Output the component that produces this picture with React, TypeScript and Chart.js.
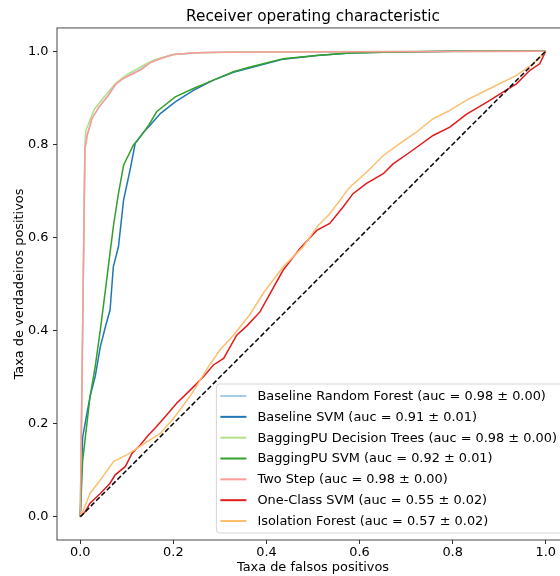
import React, { useEffect, useRef } from 'react';
import { Chart, registerables } from 'chart.js';

Chart.register(...registerables);

// ---- data ----
const axisTicks = [0, 0.2, 0.4, 0.6, 0.8, 1.0];

const baselineRfFpr = [0, 0.01, 0.015, 0.025, 0.04, 0.06, 0.075, 0.09, 0.11, 0.13, 0.15, 0.175, 0.2, 0.25, 0.3, 0.6, 1.0];
const baselineRfTpr = [0, 0.79, 0.82, 0.855, 0.88, 0.905, 0.928, 0.94, 0.952, 0.962, 0.976, 0.986, 0.993, 0.997, 0.998, 0.999, 1.0];

const baselineSvmFpr = [0, 0.005, 0.013, 0.021, 0.032, 0.043, 0.054, 0.064, 0.071, 0.082, 0.093, 0.107, 0.118, 0.135, 0.15, 0.172, 0.204, 0.243, 0.286, 0.329, 0.386, 0.436, 0.508, 0.579, 0.65, 0.722, 0.8, 1.0];
const baselineSvmTpr = [0, 0.17, 0.215, 0.258, 0.301, 0.365, 0.408, 0.444, 0.537, 0.58, 0.68, 0.745, 0.802, 0.825, 0.841, 0.866, 0.891, 0.916, 0.938, 0.955, 0.97, 0.983, 0.991, 0.996, 0.998, 0.999, 1.0, 1.0];

const baggingDtFpr = [0, 0.01, 0.012, 0.02, 0.03, 0.05, 0.075, 0.1, 0.12, 0.14, 0.16, 0.2, 0.25, 0.4, 1.0];
const baggingDtTpr = [0, 0.8, 0.83, 0.85, 0.875, 0.9, 0.93, 0.95, 0.961, 0.972, 0.982, 0.993, 0.997, 0.999, 1.0];

const baggingSvmFpr = [0, 0.005, 0.011, 0.021, 0.032, 0.043, 0.054, 0.063, 0.072, 0.082, 0.093, 0.114, 0.129, 0.147, 0.164, 0.204, 0.243, 0.286, 0.329, 0.365, 0.436, 0.508, 0.579, 0.65, 0.722, 0.8, 1.0];
const baggingSvmTpr = [0, 0.12, 0.172, 0.258, 0.322, 0.401, 0.487, 0.56, 0.63, 0.694, 0.755, 0.798, 0.816, 0.841, 0.87, 0.902, 0.92, 0.938, 0.956, 0.966, 0.984, 0.991, 0.996, 0.998, 0.999, 1.0, 1.0];

const twoStepFpr = [0, 0.01, 0.015, 0.025, 0.04, 0.06, 0.075, 0.09, 0.11, 0.13, 0.15, 0.175, 0.2, 0.25, 0.3, 0.6, 1.0];
const twoStepTpr = [0, 0.79, 0.82, 0.855, 0.88, 0.905, 0.928, 0.94, 0.95, 0.96, 0.975, 0.985, 0.993, 0.997, 0.998, 0.999, 1.0];

const oneClassFpr = [0, 0.01, 0.021, 0.043, 0.064, 0.075, 0.097, 0.111, 0.129, 0.147, 0.164, 0.186, 0.207, 0.229, 0.25, 0.265, 0.286, 0.308, 0.336, 0.358, 0.386, 0.408, 0.436, 0.472, 0.508, 0.536, 0.565, 0.586, 0.615, 0.651, 0.672, 0.708, 0.758, 0.794, 0.83, 0.873, 0.908, 0.937, 0.966, 0.987, 1.0];
const oneClassTpr = [0, 0.01, 0.029, 0.05, 0.072, 0.09, 0.108, 0.136, 0.154, 0.176, 0.194, 0.219, 0.244, 0.265, 0.286, 0.301, 0.326, 0.34, 0.39, 0.41, 0.44, 0.48, 0.53, 0.576, 0.615, 0.63, 0.666, 0.694, 0.716, 0.737, 0.758, 0.783, 0.819, 0.837, 0.865, 0.89, 0.912, 0.93, 0.959, 0.973, 1.0];

const isoForestFpr = [0, 0.007, 0.021, 0.043, 0.072, 0.1, 0.118, 0.143, 0.172, 0.2, 0.222, 0.24, 0.258, 0.275, 0.3, 0.329, 0.365, 0.393, 0.436, 0.479, 0.508, 0.536, 0.579, 0.615, 0.651, 0.687, 0.722, 0.758, 0.794, 0.83, 0.88, 0.937, 0.973, 1.0];
const isoForestTpr = [0, 0.015, 0.05, 0.079, 0.119, 0.133, 0.144, 0.161, 0.179, 0.211, 0.24, 0.265, 0.294, 0.322, 0.358, 0.39, 0.435, 0.48, 0.537, 0.58, 0.622, 0.651, 0.708, 0.74, 0.776, 0.802, 0.826, 0.855, 0.873, 0.895, 0.92, 0.948, 0.973, 1.0];

const chanceFpr = [0, 1];
const chanceTpr = [0, 1];

const seriesLabels = [
  'Baseline Random Forest (auc = 0.98 ± 0.00)',
  'Baseline SVM (auc = 0.91 ± 0.01)',
  'BaggingPU Decision Trees (auc = 0.98 ± 0.00)',
  'BaggingPU SVM (auc = 0.92 ± 0.01)',
  'Two Step (auc = 0.98 ± 0.00)',
  'One-Class SVM (auc = 0.55 ± 0.02)',
  'Isolation Forest (auc = 0.57 ± 0.02)',
];
const seriesFpr = [baselineRfFpr, baselineSvmFpr, baggingDtFpr, baggingSvmFpr, twoStepFpr, oneClassFpr, isoForestFpr];
const seriesTpr = [baselineRfTpr, baselineSvmTpr, baggingDtTpr, baggingSvmTpr, twoStepTpr, oneClassTpr, isoForestTpr];

const seriesColors = ['#a6cee3', '#1f78b4', '#b2df8a', '#33a02c', '#fb9a99', '#e31a1c', '#fdbf6f'];

const FONT = '"DejaVu Sans", "Liberation Sans", sans-serif';
const LINE_W = 1.5;
const TXT = 12.9;

const frameAndLegend = {
  id: 'frameAndLegend',
  afterDatasetsDraw(chart: any) {
    const { ctx, chartArea } = chart;
    const { left, right, top, bottom } = chartArea;
    ctx.save();
    // axes frame
    ctx.strokeStyle = '#333';
    ctx.lineWidth = 0.9;
    ctx.strokeRect(left, top, right - left, bottom - top);

    // legend (lower right)
    ctx.font = `${TXT}px ${FONT}`;
    const items = chart.data.datasets.filter((d: any) => d.label);
    let maxW = 0;
    items.forEach((d: any) => {
      maxW = Math.max(maxW, ctx.measureText(d.label).width);
    });
    const rowH = 20.83;
    const boxW = 41 + maxW + 6;
    const boxH = 24 + rowH * (items.length - 1);
    const bx = right - 6 - boxW;
    const by = bottom - 7 - boxH;
    const r = 3;
    ctx.beginPath();
    ctx.moveTo(bx + r, by);
    ctx.lineTo(bx + boxW - r, by);
    ctx.arcTo(bx + boxW, by, bx + boxW, by + r, r);
    ctx.lineTo(bx + boxW, by + boxH - r);
    ctx.arcTo(bx + boxW, by + boxH, bx + boxW - r, by + boxH, r);
    ctx.lineTo(bx + r, by + boxH);
    ctx.arcTo(bx, by + boxH, bx, by + boxH - r, r);
    ctx.lineTo(bx, by + r);
    ctx.arcTo(bx, by, bx + r, by, r);
    ctx.closePath();
    ctx.fillStyle = 'rgba(255,255,255,0.8)';
    ctx.fill();
    ctx.strokeStyle = 'rgba(204,204,204,0.8)';
    ctx.lineWidth = 1;
    ctx.stroke();

    items.forEach((d: any, i: number) => {
      const cy = by + 12 + i * rowH;
      ctx.beginPath();
      ctx.strokeStyle = d.borderColor;
      ctx.lineWidth = 2;
      ctx.moveTo(bx + 4, cy);
      ctx.lineTo(bx + 30, cy);
      ctx.stroke();
      ctx.fillStyle = '#000';
      ctx.textBaseline = 'middle';
      ctx.textAlign = 'left';
      ctx.fillText(d.label, bx + 41, cy + 0.5);
    });
    ctx.restore();
  },
};

export default function App() {
  const canvasRef = useRef<HTMLCanvasElement | null>(null);

  useEffect(() => {
    if (!canvasRef.current) return;
    const n = seriesLabels.length;
    const datasets: any[] = seriesLabels.map((label, i) => ({
      label,
      data: seriesFpr[i].map((x, j) => ({ x, y: seriesTpr[i][j] })),
      borderColor: seriesColors[i],
      backgroundColor: seriesColors[i],
      borderWidth: LINE_W,
      showLine: true,
      pointRadius: 0,
      fill: false,
      tension: 0,
      order: n + 1 - i,
    }));
    datasets.push({
      label: '',
      data: chanceFpr.map((x, j) => ({ x, y: chanceTpr[j] })),
      borderColor: '#000',
      borderWidth: 1.5,
      borderDash: [5, 2.5],
      showLine: true,
      pointRadius: 0,
      fill: false,
      order: 0,
    });

    const chart = new Chart(canvasRef.current, {
      type: 'scatter',
      data: { datasets },
      options: {
        responsive: false,
        animation: false,
        layout: { padding: { left: 0, right: 11, top: 0, bottom: 0 } },
        plugins: {
          legend: { display: false },
          tooltip: { enabled: false },
          title: {
            display: true,
            text: 'Receiver operating characteristic',
            fullSize: false,
            color: '#000',
            font: { family: FONT, size: 15.3, weight: 'normal' },
            padding: { top: 8, bottom: 1.6 },
          },
        },
        scales: {
          x: {
            type: 'linear',
            min: -0.05,
            max: 1.05,
            afterBuildTicks: (scale: any) => {
              scale.ticks = axisTicks.map((v) => ({ value: v }));
            },
            afterFit: (scale: any) => {
              scale.height = 36;
            },
            ticks: {
              color: '#000',
              font: { family: FONT, size: TXT },
              padding: 1,
              maxRotation: 0,
              callback: (v: any) => Number(v).toFixed(1),
            },
            grid: { drawOnChartArea: false, drawTicks: true, tickLength: 4, color: '#333', lineWidth: 1 },
            border: { display: false },
            title: {
              display: true,
              text: 'Taxa de falsos positivos',
              color: '#000',
              font: { family: FONT, size: TXT },
              padding: { top: 0, bottom: 0.5 },
            },
          },
          y: {
            type: 'linear',
            min: -0.05,
            max: 1.05,
            afterBuildTicks: (scale: any) => {
              scale.ticks = axisTicks.map((v) => ({ value: v }));
            },
            afterFit: (scale: any) => {
              scale.width = 57;
            },
            ticks: {
              color: '#000',
              font: { family: FONT, size: TXT },
              padding: 4.5,
              callback: (v: any) => Number(v).toFixed(1),
            },
            grid: { drawOnChartArea: false, drawTicks: true, tickLength: 4, color: '#333', lineWidth: 1 },
            border: { display: false },
            title: {
              display: true,
              text: 'Taxa de verdadeiros positivos',
              color: '#000',
              font: { family: FONT, size: TXT },
              padding: { top: 12.3, bottom: 0 },
            },
          },
        },
      } as any,
      plugins: [frameAndLegend],
    });
    return () => chart.destroy();
  }, []);

  return (
    <div style={{ position: 'fixed', left: 0, top: 0, width: 560, height: 576, overflow: 'hidden', background: '#fff' }}>
      <canvas ref={canvasRef} width={580} height={576} style={{ display: 'block', width: 580, height: 576 }} />
    </div>
  );
}
